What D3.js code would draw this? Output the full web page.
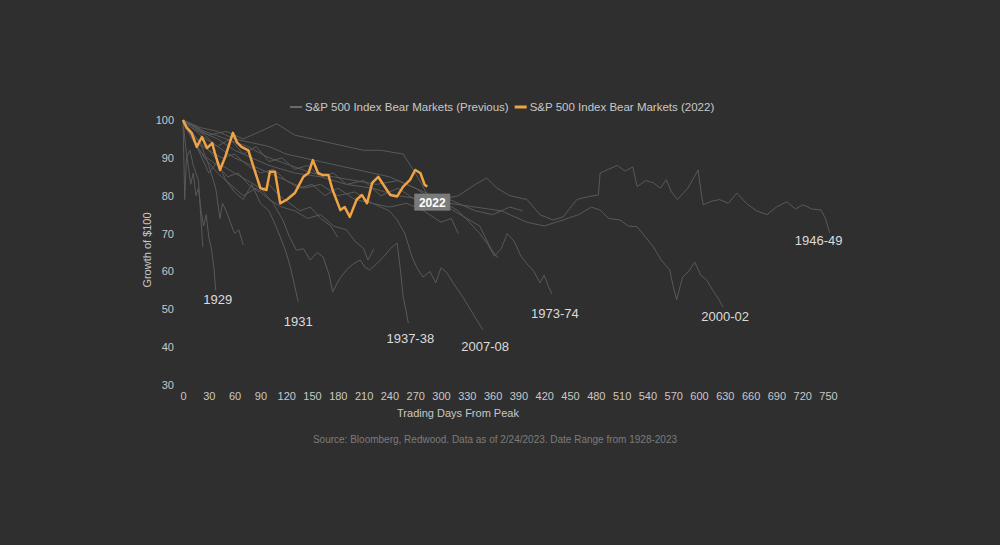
<!DOCTYPE html>
<html>
<head>
<meta charset="utf-8">
<script src="https://cdn.jsdelivr.net/npm/d3@7"></script>
<style>
  body { margin: 0; background: #2f2f2f; }
  text { font-family: "Liberation Sans", Arial, sans-serif; }
</style>
</head>
<body>
<svg id="chart" width="1000" height="545"></svg>
<script>
// [trading day, growth of $100]
const line2022 = [[0,100],[4,98],[10,96.6],[16,92.9],[22,95.5],[28,92.6],[34,93.9],[37,91.3],[43,86.8],[49,90.2],[58,96.6],[63,94],[68,92.9],[76,92],[82,87.6],[90,82],[97,81.5],[101,86.3],[107,86.3],[113,78],[121,79],[130,80.7],[140,85],[146,86],[151,89.4],[157,86],[162,85.5],[169,85.5],[174,81.5],[183,76.2],[188,77],[194,74.4],[202,79],[208,80.2],[214,78],[220,83.4],[227,85],[233,82.9],[241,80.2],[249,79.8],[256,82.4],[264,84.2],[270,86.8],[276,86],[281,82.9],[284,82.4]];

const previous = [
  {name: '1929', points: [[0,100],[3,93],[6,88],[9,83],[12,86],[15,80],[18,82],[21,76],[24,72],[27,75],[30,69],[33,66],[36,61],[38,55]]},
  {name: '1931', points: [[0,100],[10,96],[20,91],[30,86],[40,89],[50,84],[60,81],[70,79],[80,83],[90,78],[100,76],[108,72],[115,68],[120,65],[125,61],[130,56],[134,52]]},
  {name: '1937-38', points: [[0,100],[15,95],[30,92],[45,88],[60,86],[75,84],[90,82],[105,78],[116,73.6],[124,69],[132,65.6],[140,66],[148,63],[156,65],[163,63.8],[170,59],[174,54.6],[182,58],[190,60.4],[198,62],[206,63],[212,61],[217,60.4],[225,62],[233,63.8],[241,66],[249,67.5],[253,60],[256,53.2],[259,50],[262,46.4]]},
  {name: '2007-08', points: [[0,100],[20,96],[40,93],[60,90],[80,88],[100,86],[120,84],[140,82],[160,83],[180,80],[200,81],[220,78],[240,76],[249,73.6],[258,70],[266,64],[272,61],[279,58.5],[287,60],[294,57],[300,61],[307,59.6],[314,57],[320,55],[326,53],[334,50],[342,47],[349,44.5]]},
  {name: '1973-74', points: [[0,100],[25,97],[50,95],[75,93],[100,90],[125,88],[150,86],[175,85],[200,84],[225,83],[250,84],[270,82],[290,79],[305,78],[320,76],[333,73],[345,70],[355,67],[362,64],[370,66],[377,70],[385,68],[393,64],[400,62],[408,60],[415,57],[420,59],[425,56],[429,54]]},
  {name: '2000-02', points: [[0,100],[20,97],[40,95],[60,92],[80,90],[100,88],[130,86],[160,85],[190,83],[220,82],[250,80],[280,79],[310,78],[340,77],[370,76],[400,73],[420,72],[442,73.6],[460,75],[475,77],[485,76.2],[495,74],[508,73.6],[518,72],[528,71.8],[538,69],[547,66.5],[556,63],[566,60.4],[570,56],[574,52.5],[578,56],[581,58.5],[588,60],[595,62.5],[602,59],[609,57.7],[616,55],[622,53],[628,50.6]]},
  {name: '1946-49', points: [[0,100],[20,98],[40,97],[60,95],[80,94],[100,93],[120,91],[140,90],[160,89],[180,88],[200,87],[220,86],[240,85],[260,83],[280,81],[300,79],[320,80],[340,83],[353,84.7],[365,82],[380,80],[400,79],[415,75],[430,73.6],[442,74.4],[458,79],[470,79.7],[483,80.2],[485,86],[495,87],[505,88],[514,86.5],[523,87.6],[528,82.4],[538,84],[547,83.4],[555,82],[562,84.2],[568,81],[575,79],[587,82],[599,86.8],[603,80],[605,77.6],[614,78.5],[624,79],[634,78],[644,80.7],[655,78],[667,76],[679,75],[690,77],[702,78.4],[712,76.5],[721,77.6],[731,76.5],[742,76.2],[747,74],[752,70.2]]},
  {name: '', points: [[0,100],[2,79],[4,90],[8,92],[12,88],[18,84],[23,66.5]]},
  {name: '', points: [[0,100],[10,97],[20,94],[30,88],[38,82],[43,74],[46,78],[50,76],[55,73],[60,70],[65,71],[70,67]]},
  {name: '', points: [[0,100],[15,98],[30,96],[50,97],[70,95],[90,97],[109,99],[130,96],[150,95],[170,94],[190,93],[210,92],[230,92],[256,91],[270,86],[285,80],[300,78],[315,76],[330,74],[345,72],[358,66],[366,63.6]]},
  {name: '', points: [[0,100],[12,95],[25,90],[40,86],[55,83],[70,80],[85,82],[100,79],[115,77],[130,76],[145,74],[160,75],[175,72],[190,71],[200,68],[210,66],[215,63],[222,66]]},
  {name: '', points: [[0,100],[15,94],[30,92],[45,90],[60,91],[75,88],[90,86],[105,87],[120,84],[135,82],[150,83],[165,80],[180,82],[200,79],[220,78],[240,77],[260,78],[280,76],[300,73],[312,74],[320,70]]},
  {name: '', points: [[0,100],[10,98],[25,96],[40,93],[55,95],[70,91],[85,93],[100,89],[115,90],[130,87],[145,88],[160,85],[175,86],[190,83],[210,84],[230,80],[250,82],[270,79],[285,78],[300,80],[320,78],[340,76],[360,75],[380,77],[395,76]]},
  {name: '', points: [[0,100],[8,96],[18,92],[28,90],[40,88],[52,85],[64,86],[76,83],[88,81],[100,83],[112,80],[124,78],[136,76],[148,77],[160,74],[172,72],[180,69]]}
];

const yTicks = [30, 40, 50, 60, 70, 80, 90, 100];
const xTicks = d3.range(0, 751, 30);

// label offsets below each line end (layout only)
const labelOffset = {'1929': [2, 14], '1931': [0, 24], '1937-38': [2, 20], '2007-08': [2, 21], '1973-74': [3, 24], '2000-02': [2, 14], '1946-49': [-11, 12]};

const svg = d3.select('#chart');
const x = d3.scaleLinear().domain([0, 750]).range([183, 828]);
const y = d3.scaleLinear().domain([30, 100]).range([385, 120]);

const line = d3.line().x(d => x(d[0])).y(d => y(d[1]));

const xAxis = svg.append('g')
  .attr('transform', 'translate(0,392)')
  .call(d3.axisBottom(x).tickValues(xTicks).tickSize(0).tickPadding(0));
const yAxis = svg.append('g')
  .attr('transform', 'translate(174,0)')
  .call(d3.axisLeft(y).tickValues(yTicks).tickSize(0).tickPadding(0));
[xAxis, yAxis].forEach(a => {
  a.select('.domain').remove();
  a.selectAll('text').attr('fill', '#c8c8c8').style('font-size', '11px')
    .style('font-family', '"Liberation Sans", sans-serif');
});
xAxis.selectAll('text').attr('dy', '0.71em');

svg.append('text').attr('x', 458).attr('y', 417).attr('text-anchor', 'middle')
  .attr('fill', '#c8c8c8').style('font-size', '11px').text('Trading Days From Peak');
svg.append('text').attr('transform', 'translate(151,250) rotate(-90)').attr('text-anchor', 'middle')
  .attr('fill', '#c8c8c8').style('font-size', '11px').text('Growth of $100');

svg.append('g').selectAll('path').data(previous).join('path')
  .attr('d', d => line(d.points))
  .attr('fill', 'none').attr('stroke', '#595959').attr('stroke-width', 1);

svg.append('g').selectAll('text').data(previous.filter(d => d.name)).join('text')
  .attr('x', d => x(d.points[d.points.length - 1][0]) + labelOffset[d.name][0])
  .attr('y', d => y(d.points[d.points.length - 1][1]) + labelOffset[d.name][1])
  .attr('text-anchor', 'middle')
  .attr('fill', '#dcdcdc').style('font-size', '13px').text(d => d.name);

svg.append('path').attr('d', line(line2022))
  .attr('fill', 'none').attr('stroke', '#f0a345').attr('stroke-width', 2.5)
  .attr('stroke-linejoin', 'round');

const last = line2022[line2022.length - 1];
svg.append('rect').attr('x', x(last[0]) - 13).attr('y', y(last[1]) + 7)
  .attr('width', 36).attr('height', 17).attr('fill', '#7a7a7a');
svg.append('text').attr('x', x(last[0]) + 5).attr('y', y(last[1]) + 20)
  .attr('text-anchor', 'middle').attr('fill', '#ffffff')
  .style('font-size', '12px').style('font-weight', 'bold').text('2022');

const legend = svg.append('g').attr('transform', 'translate(290,107)');
legend.append('line').attr('x1', 0).attr('x2', 12).attr('stroke', '#6a6a6a').attr('stroke-width', 2);
const t1 = legend.append('text').attr('x', 15).attr('dy', '0.35em').attr('fill', '#c8c8c8')
  .style('font-size', '11.5px').text('S&P 500 Index Bear Markets (Previous)');
const x2 = 15 + t1.node().getComputedTextLength() + 6;
legend.append('line').attr('x1', x2).attr('x2', x2 + 12).attr('stroke', '#f0a345').attr('stroke-width', 3);
legend.append('text').attr('x', x2 + 15).attr('dy', '0.35em').attr('fill', '#c8c8c8')
  .style('font-size', '11.5px').text('S&P 500 Index Bear Markets (2022)');

svg.append('text').attr('x', 495).attr('y', 443).attr('text-anchor', 'middle')
  .attr('fill', '#7c7c7c').style('font-size', '10px')
  .text('Source: Bloomberg, Redwood. Data as of 2/24/2023. Date Range from 1928-2023');
</script>
</body>
</html>
